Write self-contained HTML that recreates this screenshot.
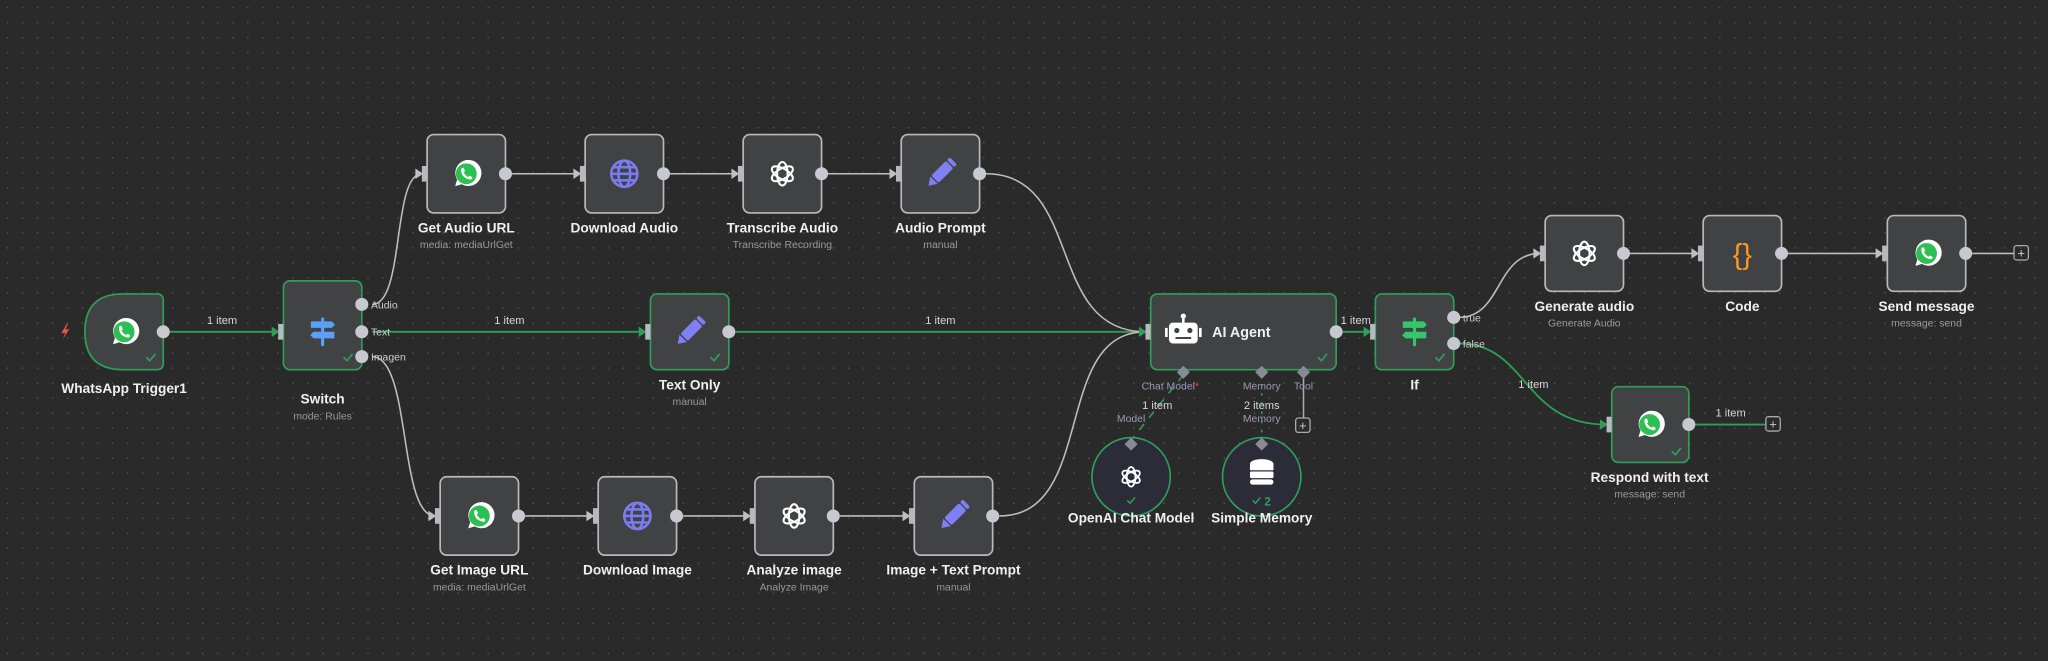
<!DOCTYPE html>
<html><head><meta charset="utf-8"><style>
html,body{margin:0;padding:0;background:#2a2a2a;}
svg{display:block}
text{font-family:"Liberation Sans",sans-serif}
.lb{fill:#f0f0f0;font-size:10.5px;font-weight:bold;text-anchor:middle}
.sb{fill:#9a9a9a;font-size:8px;text-anchor:middle}
.el{fill:#d8d8d8;font-size:8.5px;text-anchor:middle}
.pl{fill:#d0d0d0;font-size:8px}
.hl{fill:#9a9ab8;font-size:8px;text-anchor:middle}
.n{fill:#414244;stroke:#b8b8be;stroke-width:1.3}
.g{fill:#414244;stroke:#2f9e5a;stroke-width:1.3}
.eg{fill:none;stroke:#bdbdbd;stroke-width:1.2}
.egr{fill:none;stroke:#2f9e5a;stroke-width:1.4}
</style></head><body>
<svg width="2048" height="661" viewBox="0 0 1568 506" xmlns="http://www.w3.org/2000/svg">
<defs>
<pattern id="dots" width="11.5" height="11.5" patternUnits="userSpaceOnUse">
<circle cx="5.75" cy="5.75" r="0.6" fill="#5a5a5a"/>
</pattern>
<symbol id="wa" viewBox="-12 -12 24 24" overflow="visible">
<path d="M-8.5 9.5 L-7 4.5 A10 10 0 1 1 -3.5 8 Z" fill="#fff"/>
<circle cx="0" cy="0" r="8" fill="#2cc053"/>
<path d="M-4 -3.5 Q-3.5 -5 -2 -4.5 L-1 -2 L-2 -1 Q-0.5 1.5 1.5 2.5 L2.5 1.5 L4.5 2.5 Q4.8 4 3.5 4.5 Q-4 3.5 -4 -3.5Z" fill="#fff"/>
</symbol>
<symbol id="globe" viewBox="-12 -12 24 24" overflow="visible">
<g fill="none" stroke="#7b7bf0" stroke-width="2"><circle r="10"/><ellipse rx="4.5" ry="10"/><line x1="-10" y1="0" x2="10" y2="0"/><path d="M-8.5 -5 H8.5 M-8.5 5 H8.5"/></g>
</symbol>
<symbol id="oai" viewBox="-12 -12 24 24" overflow="visible">
<g fill="none" stroke="#fff" stroke-width="1.6">
<ellipse rx="4" ry="9" transform="rotate(0) translate(0 0)"/>
<ellipse rx="4" ry="9" transform="rotate(60)"/>
<ellipse rx="4" ry="9" transform="rotate(120)"/>
</g>
</symbol>
<symbol id="pen" viewBox="-12 -12 24 24" overflow="visible">
<g transform="rotate(45)"><rect x="-4" y="-10" width="8" height="16" rx="1.5" fill="#8080f5"/><path d="M-4 7 L4 7 L0 13Z" fill="#8080f5"/><rect x="-4" y="-14" width="8" height="3" rx="1.5" fill="#8080f5"/></g>
</symbol>
<symbol id="sign" viewBox="-12 -12 24 24" overflow="visible">
<rect x="-1.2" y="-11" width="2.4" height="22" rx="1"/>
<path d="M-9 -8 H7 L9.5 -5.5 L7 -3 H-9Z"/>
<path d="M9 0 H-7 L-9.5 2.5 L-7 5 H9Z"/>
</symbol>
<symbol id="chk" viewBox="0 0 10 8" overflow="visible"><path d="M1 4 L4 7 L9 1" fill="none" stroke="#2f9e5a" stroke-width="1.5"/></symbol>
</defs>
<rect width="1568" height="506" fill="#2a2a2a"/>
<rect width="1568" height="506" fill="url(#dots)"/>

<!-- edges -->
<path class="egr" d="M130 254 H213"/>
<path class="egr" d="M285 254 H494"/>
<path class="egr" d="M563 254 H877"/>
<path class="egr" d="M1027 254 H1049"/>
<path class="eg" d="M285 233 C310 233 300 133 323 133"/>
<path class="eg" d="M285 273 C315 273 305 395 333 395"/>
<path class="eg" d="M392 133 H444"/><path class="eg" d="M513 133 H565"/><path class="eg" d="M634 133 H686"/>
<path class="eg" d="M402 395 H454"/><path class="eg" d="M523 395 H574"/><path class="eg" d="M643 395 H696"/>
<path class="eg" d="M755 133 C830 133 800 254 877 254"/>
<path class="eg" d="M765 395 C840 395 805 254 877 254"/>
<path class="eg" d="M1117 243 C1150 243 1145 194 1179 194"/>
<path class="egr" d="M1117 263 C1170 263 1165 325 1230 325"/>
<path class="eg" d="M1248 194 H1300"/><path class="eg" d="M1369 194 H1441"/><path class="eg" d="M1510 194 H1542"/>
<path class="egr" d="M1298 325 H1352"/>
<path d="M906 287 L866 337" stroke="#2f9e5a" stroke-width="1.2" stroke-dasharray="6 6" fill="none"/>
<path d="M966 287 V337" stroke="#2f9e5a" stroke-width="1.2" stroke-dasharray="2 5" fill="none"/>
<path d="M998 287 V320" stroke="#aaa" stroke-width="1.2"/>

<!-- arrowheads -->
<g fill="#2f9e5a"><path d="M208 250 L214 254 L208 258Z"/><path d="M489 250 L495 254 L489 258Z"/><path d="M872 250 L878 254 L872 258Z"/><path d="M1044 250 L1050 254 L1044 258Z"/><path d="M1225 321 L1231 325 L1225 329Z"/></g>
<g fill="#c0c0c0"><path d="M318 129 L324 133 L318 137Z"/><path d="M439 129 L445 133 L439 137Z"/><path d="M560 129 L566 133 L560 137Z"/><path d="M681 129 L687 133 L681 137Z"/>
<path d="M328 391 L334 395 L328 399Z"/><path d="M449 391 L455 395 L449 399Z"/><path d="M569 391 L575 395 L569 399Z"/><path d="M691 391 L697 395 L691 399Z"/>
<path d="M1174 190 L1180 194 L1174 198Z"/><path d="M1295 190 L1301 194 L1295 198Z"/><path d="M1436 190 L1442 194 L1436 198Z"/></g>

<!-- edge labels -->
<text class="el" x="170" y="248">1 item</text>
<text class="el" x="390" y="248">1 item</text>
<text class="el" x="720" y="248">1 item</text>
<text class="el" x="1038" y="248">1 item</text>
<text class="el" x="1174" y="297">1 item</text>
<text class="el" x="1325" y="319">1 item</text>
<text class="el" x="886" y="313">1 item</text>
<text class="el" x="966" y="313">2 items</text>
<text class="hl" x="866" y="323">Model</text>
<text class="hl" x="966" y="323">Memory</text>

<!-- Trigger -->
<path class="g" d="M94 225 H120 Q125 225 125 230 V278 Q125 283 120 283 H94 Q65 283 65 254 Q65 225 94 225Z"/>
<use href="#wa" x="83" y="242" width="24" height="24"/>
<use href="#chk" x="111" y="270" width="9" height="7"/>
<path d="M51 248 L47 255 L50 255 L48 260 L53 252 L50 252 L52 248Z" fill="#e8553f"/>
<text class="lb" x="95" y="301">WhatsApp Trigger1</text>

<!-- Switch -->
<rect class="g" x="217" y="215" width="60" height="68" rx="5"/>
<use href="#sign" x="235" y="242" width="24" height="24" fill="#5aa0f8"/>
<use href="#chk" x="262" y="270" width="9" height="7"/>
<text class="lb" x="247" y="309">Switch</text><text class="sb" x="247" y="321">mode: Rules</text>
<text class="pl" x="284" y="236">Audio</text><text class="pl" x="284" y="257">Text</text><text class="pl" x="284" y="276">Imagen</text>

<!-- Top row -->
<rect class="n" x="327" y="103" width="60" height="60" rx="5"/><use href="#wa" x="345" y="121" width="24" height="24"/>
<text class="lb" x="357" y="178">Get Audio URL</text><text class="sb" x="357" y="190">media: mediaUrlGet</text>
<rect class="n" x="448" y="103" width="60" height="60" rx="5"/><use href="#globe" x="466" y="121" width="24" height="24"/>
<text class="lb" x="478" y="178">Download Audio</text>
<rect class="n" x="569" y="103" width="60" height="60" rx="5"/><use href="#oai" x="587" y="121" width="24" height="24"/>
<text class="lb" x="599" y="178">Transcribe Audio</text><text class="sb" x="599" y="190">Transcribe Recording</text>
<rect class="n" x="690" y="103" width="60" height="60" rx="5"/><use href="#pen" x="708" y="121" width="24" height="24"/>
<text class="lb" x="720" y="178">Audio Prompt</text><text class="sb" x="720" y="190">manual</text>

<!-- Text only -->
<rect class="g" x="498" y="225" width="60" height="58" rx="5"/><use href="#pen" x="516" y="242" width="24" height="24"/>
<use href="#chk" x="543" y="270" width="9" height="7"/>
<text class="lb" x="528" y="298">Text Only</text><text class="sb" x="528" y="310">manual</text>

<!-- Bottom row -->
<rect class="n" x="337" y="365" width="60" height="60" rx="5"/><use href="#wa" x="355" y="383" width="24" height="24"/>
<text class="lb" x="367" y="440">Get Image URL</text><text class="sb" x="367" y="452">media: mediaUrlGet</text>
<rect class="n" x="458" y="365" width="60" height="60" rx="5"/><use href="#globe" x="476" y="383" width="24" height="24"/>
<text class="lb" x="488" y="440">Download Image</text>
<rect class="n" x="578" y="365" width="60" height="60" rx="5"/><use href="#oai" x="596" y="383" width="24" height="24"/>
<text class="lb" x="608" y="440">Analyze image</text><text class="sb" x="608" y="452">Analyze Image</text>
<rect class="n" x="700" y="365" width="60" height="60" rx="5"/><use href="#pen" x="718" y="383" width="24" height="24"/>
<text class="lb" x="730" y="440">Image + Text Prompt</text><text class="sb" x="730" y="452">manual</text>

<!-- AI Agent -->
<rect class="g" x="881" y="225" width="142" height="58" rx="5"/>
<g fill="#fff"><rect x="895" y="247" width="22" height="16" rx="3"/><rect x="892" y="251" width="2" height="7"/><rect x="918" y="251" width="2" height="7"/><rect x="905" y="242" width="2" height="5"/><circle cx="906" cy="242" r="2"/></g>
<g fill="#414244"><circle cx="901" cy="253" r="2"/><circle cx="911" cy="253" r="2"/><rect x="900" y="258" width="12" height="1.5"/></g>
<text x="928" y="258" fill="#f0f0f0" font-size="11" font-weight="bold">AI Agent</text>
<use href="#chk" x="1008" y="270" width="9" height="7"/>
<g fill="#8a8a96"><path d="M906 280 L911 285 L906 290 L901 285Z"/><path d="M966 280 L971 285 L966 290 L961 285Z"/><path d="M998 280 L1003 285 L998 290 L993 285Z"/></g>
<text class="hl" x="896" y="298">Chat Model<tspan fill="#e84040">*</tspan></text>
<text class="hl" x="966" y="298">Memory</text><text class="hl" x="998" y="298">Tool</text>
<rect x="992" y="320" width="11" height="11" rx="2" fill="none" stroke="#aaa"/><text x="997.5" y="329" fill="#ccc" font-size="10" text-anchor="middle">+</text>

<!-- sub nodes -->
<circle cx="866" cy="365" r="30" fill="#2b2c38" stroke="#2f9e5a" stroke-width="1.3"/>
<path d="M866 335 L871 340 L866 345 L861 340Z" fill="#8a8a96"/>
<use href="#oai" x="856" y="355" width="20" height="20"/>
<use href="#chk" x="862" y="380" width="8" height="6"/>
<text class="lb" x="866" y="400">OpenAI Chat Model</text>
<circle cx="966" cy="365" r="30" fill="#2b2c38" stroke="#2f9e5a" stroke-width="1.3"/>
<path d="M966 335 L971 340 L966 345 L961 340Z" fill="#8a8a96"/>
<g fill="#fff"><ellipse cx="966" cy="355" rx="9" ry="3.5"/><rect x="957" y="355" width="18" height="5"/><rect x="957" y="361" width="18" height="5" rx="1"/><rect x="957" y="367" width="18" height="4" rx="2"/></g>
<use href="#chk" x="958" y="380" width="8" height="6"/><text x="968" y="387" fill="#2f9e5a" font-size="9" font-weight="bold">2</text>
<text class="lb" x="966" y="400">Simple Memory</text>

<!-- If -->
<rect class="g" x="1053" y="225" width="60" height="58" rx="5"/>
<use href="#sign" x="1071" y="242" width="24" height="24" fill="#34c76a"/>
<use href="#chk" x="1098" y="270" width="9" height="7"/>
<text class="lb" x="1083" y="298">If</text>
<text class="pl" x="1120" y="246">true</text><text class="pl" x="1120" y="266">false</text>

<!-- right side -->
<rect class="n" x="1183" y="165" width="60" height="58" rx="5"/><use href="#oai" x="1201" y="182" width="24" height="24"/>
<text class="lb" x="1213" y="238">Generate audio</text><text class="sb" x="1213" y="250">Generate Audio</text>
<rect class="n" x="1304" y="165" width="60" height="58" rx="5"/>
<text x="1334" y="202" fill="#ff9922" font-size="22" text-anchor="middle" font-family="Liberation Mono,monospace">{}</text>
<text class="lb" x="1334" y="238">Code</text>
<rect class="n" x="1445" y="165" width="60" height="58" rx="5"/><use href="#wa" x="1463" y="182" width="24" height="24"/>
<text class="lb" x="1475" y="238">Send message</text><text class="sb" x="1475" y="250">message: send</text>
<rect x="1542" y="188" width="11" height="11" rx="2" fill="none" stroke="#aaa"/><text x="1547.5" y="197" fill="#ccc" font-size="10" text-anchor="middle">+</text>

<rect class="g" x="1234" y="296" width="59" height="58" rx="5"/><use href="#wa" x="1251" y="313" width="24" height="24"/>
<use href="#chk" x="1279" y="342" width="9" height="7"/>
<text class="lb" x="1263" y="369">Respond with text</text><text class="sb" x="1263" y="381">message: send</text>
<rect x="1352" y="319" width="11" height="11" rx="2" fill="none" stroke="#aaa"/><text x="1357.5" y="328" fill="#ccc" font-size="10" text-anchor="middle">+</text>

<!-- handles: inputs -->
<g fill="#b8b8be">
<rect x="213" y="248" width="4" height="12"/><rect x="494" y="248" width="4" height="12"/><rect x="877" y="248" width="4" height="12"/><rect x="1049" y="248" width="4" height="12"/>
<rect x="323" y="127" width="4" height="12"/><rect x="444" y="127" width="4" height="12"/><rect x="565" y="127" width="4" height="12"/><rect x="686" y="127" width="4" height="12"/>
<rect x="333" y="389" width="4" height="12"/><rect x="454" y="389" width="4" height="12"/><rect x="574" y="389" width="4" height="12"/><rect x="696" y="389" width="4" height="12"/>
<rect x="1179" y="188" width="4" height="12"/><rect x="1300" y="188" width="4" height="12"/><rect x="1441" y="188" width="4" height="12"/><rect x="1230" y="319" width="4" height="12"/>
</g>
<!-- outputs -->
<g fill="#c8c8d0">
<circle cx="125" cy="254" r="5"/>
<circle cx="277" cy="233" r="5"/><circle cx="277" cy="254" r="5"/><circle cx="277" cy="273" r="5"/>
<circle cx="387" cy="133" r="5"/><circle cx="508" cy="133" r="5"/><circle cx="629" cy="133" r="5"/><circle cx="750" cy="133" r="5"/>
<circle cx="558" cy="254" r="5"/>
<circle cx="397" cy="395" r="5"/><circle cx="518" cy="395" r="5"/><circle cx="638" cy="395" r="5"/><circle cx="760" cy="395" r="5"/>
<circle cx="1023" cy="254" r="5"/><circle cx="1113" cy="243" r="5"/><circle cx="1113" cy="263" r="5"/>
<circle cx="1243" cy="194" r="5"/><circle cx="1364" cy="194" r="5"/><circle cx="1505" cy="194" r="5"/><circle cx="1293" cy="325" r="5"/>
</g>
</svg>
</body></html>
